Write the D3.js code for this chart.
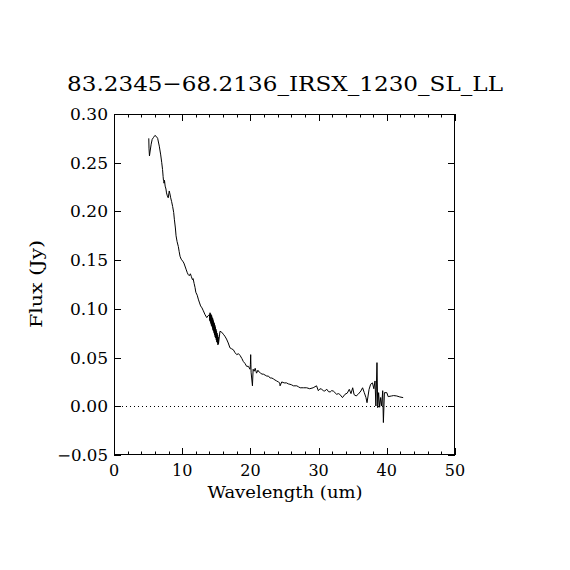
<!DOCTYPE html>
<html><head><meta charset="utf-8">
<script src="https://cdn.jsdelivr.net/npm/d3@7"></script>
<style>body{margin:0;background:#fff}svg{display:block}text{font-family:"DejaVu Serif",serif;fill:#000}</style>
</head><body>
<svg id="c" width="570" height="570"></svg>
<script>
const title = "83.2345\u221268.2136_IRSX_1230_SL_LL";
const xLabel = "Wavelength (um)";
const yLabel = "Flux (Jy)";
const xTicks = [0,10,20,30,40,50];
const yTicks = [-0.05,0.00,0.05,0.10,0.15,0.20,0.25,0.30];
const wavelength = [5.10,5.13,5.20,5.30,5.45,5.6,5.8,6.0,6.2,6.4,6.64,6.85,7.0,7.12,7.2,7.25,7.3,7.33,7.4,7.5,7.62,7.7,7.82,7.95,8.1,8.2,8.31,8.45,8.6,8.75,8.85,9.0,9.1,9.25,9.43,9.55,9.68,9.85,10.07,10.25,10.4,10.6,10.75,10.9,11.04,11.2,11.35,11.5,11.6,11.75,11.88,12.0,12.2,12.36,12.5,12.7,12.9,13.1,13.35,13.6,13.8,
  14.0,14.04,14.08,14.12,14.16,14.2,14.24,14.28,14.32,14.36,14.4,14.44,14.48,14.52,14.56,14.6,14.64,14.68,14.72,14.76,14.8,14.84,14.88,14.92,14.96,15.0,15.04,15.08,15.12,15.16,15.2,15.24,15.28,15.32,
  15.54,15.8,16.03,16.25,16.5,16.75,17.0,17.25,17.5,17.75,18.0,18.25,18.5,18.75,18.96,19.2,19.45,19.7,19.94,20.0,20.04,20.1,20.3,20.4,20.55,20.7,20.9,21.1,21.3,21.5,21.7,21.9,22.15,22.4,22.65,22.9,23.15,23.4,23.6,23.85,24.1,24.3,24.35,24.6,24.95,25.3,25.55,25.8,26.05,26.3,26.55,26.8,27.05,27.3,27.8,28.25,28.7,29.2,29.7,29.96,30.2,30.45,30.7,30.9,31.2,31.45,31.7,31.9,32.15,32.4,32.65,32.9,33.1,33.5,33.87,34.2,34.5,34.75,35.0,35.2,35.5,35.8,36.2,36.45,36.7,36.95,37.1,37.4,37.63,37.9,38.1,38.27,38.4,38.56,38.67,38.8,38.95,39.1,39.25,39.4,39.5,39.65,40.0,40.2,40.7,41.0,41.45,41.9,42.4];
const flux = [0.275,0.265,0.257,0.262,0.269,0.274,0.276,0.278,0.277,0.275,0.267,0.258,0.250,0.243,0.236,0.232,0.231,0.229,0.232,0.226,0.223,0.219,0.216,0.214,0.221,0.218,0.214,0.210,0.205,0.199,0.192,0.183,0.175,0.169,0.164,0.159,0.154,0.151,0.149,0.147,0.144,0.140,0.137,0.135,0.134,0.136,0.133,0.130,0.131,0.126,0.122,0.117,0.114,0.110,0.107,0.103,0.101,0.098,0.094,0.091,0.093,
  0.094,0.088,0.096,0.087,0.095,0.085,0.094,0.083,0.093,0.082,0.091,0.080,0.090,0.078,0.088,0.077,0.086,0.075,0.085,0.073,0.083,0.071,0.081,0.070,0.079,0.068,0.077,0.066,0.075,0.065,0.073,0.063,0.071,0.064,
  0.077,0.076,0.074,0.072,0.069,0.065,0.060,0.059,0.058,0.055,0.053,0.054,0.052,0.049,0.046,0.044,0.041,0.041,0.038,0.043,0.053,0.035,0.021,0.038,0.036,0.039,0.034,0.037,0.035,0.034,0.033,0.033,0.032,0.031,0.031,0.029,0.029,0.028,0.027,0.026,0.025,0.024,0.021,0.025,0.024,0.024,0.023,0.0226,0.022,0.021,0.021,0.021,0.020,0.019,0.019,0.019,0.018,0.019,0.021,0.016,0.018,0.0175,0.016,0.0157,0.0175,0.015,0.0147,0.016,0.0157,0.014,0.0123,0.013,0.0123,0.0089,0.0123,0.0135,0.0174,0.013,0.019,0.012,0.0106,0.0123,0.0157,0.019,0.014,0.0089,0.0037,0.0174,0.0226,0.024,0.018,0.026,0.0003,0.0448,-0.0014,0.014,-0.001,0.009,0.0003,0.016,-0.0167,0.014,0.014,0.0099,0.0106,0.011,0.0106,0.0096,0.0089];

const svg = d3.select("#c");
const L = 114, R = 455, T = 114, B = 455;
const x = d3.scaleLinear().domain([0,50]).range([L,R]);
const y = d3.scaleLinear().domain([-0.05,0.30]).range([B,T]);

svg.append("text").attr("x", 285).attr("y", 91).attr("text-anchor","middle")
  .attr("font-size", 21).attr("textLength", 436).attr("lengthAdjust","spacingAndGlyphs").text(title);

svg.append("line").attr("x1", x(0)).attr("x2", x(50)).attr("y1", Math.round(y(0))+0.5).attr("y2", Math.round(y(0))+0.5)
  .attr("stroke","#000").attr("stroke-width",1).attr("stroke-dasharray","1,3");

svg.append("rect").attr("x", L+0.5).attr("y", T+0.5).attr("width", R-L-1).attr("height", B-T-1)
  .attr("fill","none").attr("stroke","#000").attr("stroke-width",1);

const minorX = d3.range(0,50.01,2);
const g = svg.append("g").attr("stroke","#000").attr("stroke-width",1);
minorX.forEach(v => {
  const major = v % 10 === 0;
  const len = major ? 7 : 3.5;
  const px = Math.round(x(v)) + 0.5;
  g.append("line").attr("x1",px).attr("x2",px).attr("y1",B).attr("y2",B-len);
  g.append("line").attr("x1",px).attr("x2",px).attr("y1",T).attr("y2",T+len);
});
yTicks.forEach(v => {
  const py = Math.round(y(v)) + 0.5;
  g.append("line").attr("x1",L).attr("x2",L+7).attr("y1",py).attr("y2",py);
  g.append("line").attr("x1",R).attr("x2",R-7).attr("y1",py).attr("y2",py);
});

xTicks.forEach(v => {
  svg.append("text").attr("x", x(v)).attr("y", 476).attr("text-anchor","middle")
    .attr("font-size", 16).text(String(v));
});
yTicks.forEach(v => {
  const s = d3.format(".2f")(v).replace("-","\u2212");
  svg.append("text").attr("x", 108).attr("y", y(v)+6).attr("text-anchor","end")
    .attr("font-size", 16).attr("textLength", v < 0 ? 51 : 38).attr("lengthAdjust","spacingAndGlyphs").text(s);
});

svg.append("text").attr("x", 285).attr("y", 498).attr("text-anchor","middle")
  .attr("font-size", 16).attr("textLength", 155).attr("lengthAdjust","spacingAndGlyphs").text(xLabel);
svg.append("text").attr("transform","translate(42,284) rotate(-90)").attr("text-anchor","middle")
  .attr("font-size", 16).attr("textLength", 88).attr("lengthAdjust","spacingAndGlyphs").text(yLabel);

const pts = wavelength.map((w,i)=>[w, flux[i]]);
svg.append("path").datum(pts)
  .attr("d", d3.line().x(d=>x(d[0])).y(d=>y(d[1])))
  .attr("fill","none").attr("stroke","#000").attr("stroke-width",1);
</script>
</body></html>
